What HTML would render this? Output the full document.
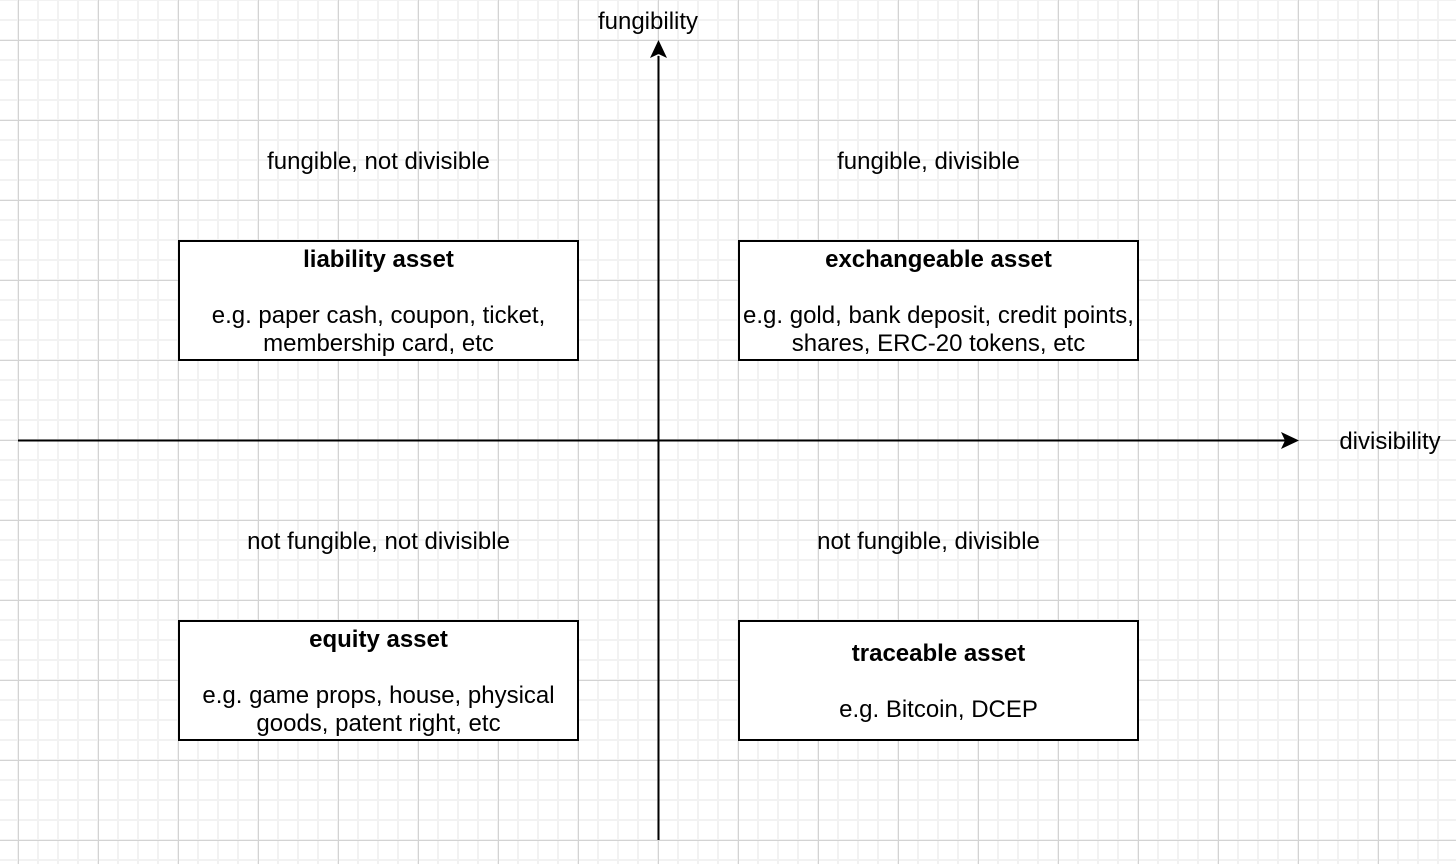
<!DOCTYPE html>
<html><head><style>
html,body{margin:0;padding:0}
body{width:1456px;height:864px;position:relative;overflow:hidden;background-color:#fff;
background-image:
linear-gradient(to right,#d3d3d3 1px,transparent 1px),
linear-gradient(to bottom,#d3d3d3 1px,transparent 1px),
linear-gradient(to right,#f2f2f2 2px,transparent 2px),
linear-gradient(to bottom,#f2f2f2 2px,transparent 2px);
background-size:80px 80px,80px 80px,20px 20px,20px 20px;
background-position:18px 0,0 40px,17px 0,0 -1px;
font-family:"Liberation Sans",Arial,sans-serif;font-size:24px;color:#000}
.t{position:absolute;white-space:nowrap;text-align:center;line-height:28px}
.box{position:absolute;width:397px;height:117px;border:2px solid #000;background:#fff;display:flex;align-items:center;justify-content:center;text-align:center;line-height:28px;white-space:nowrap}
.box>div{margin-top:3px}
b{font-weight:bold}
</style></head><body>
<svg width="1456" height="864" style="position:absolute;left:0;top:0">
<line x1="18" y1="440.5" x2="1285" y2="440.5" stroke="#000" stroke-width="2"/>
<polygon points="1299,440.5 1281,432 1285,440.5 1281,449" fill="#000"/>
<line x1="658.5" y1="840" x2="658.5" y2="56" stroke="#000" stroke-width="2"/>
<polygon points="658.5,40 650,58 658.5,54 667,58" fill="#000"/>
</svg>
<div class="t" style="left:548px;top:8px;width:200px">fungibility</div>
<div class="t" style="left:1290px;top:428px;width:200px">divisibility</div>
<div class="t" style="left:178px;top:148px;width:401px">fungible, not divisible</div>
<div class="t" style="left:728px;top:148px;width:401px">fungible, divisible</div>
<div class="t" style="left:178px;top:528px;width:401px">not fungible, not divisible</div>
<div class="t" style="left:728px;top:528px;width:401px">not fungible, divisible</div>
<div class="box" style="left:178px;top:240px"><div><b>liability asset</b><br><br>e.g. paper cash, coupon, ticket,<br>membership card, etc</div></div>
<div class="box" style="left:738px;top:240px"><div><b>exchangeable asset</b><br><br>e.g. gold, bank deposit, credit points,<br>shares, ERC-20 tokens, etc</div></div>
<div class="box" style="left:178px;top:620px"><div><b>equity asset</b><br><br>e.g. game props, house, physical<br>goods, patent right, etc</div></div>
<div class="box" style="left:738px;top:620px"><div><b>traceable asset</b><br><br>e.g. Bitcoin, DCEP</div></div>
</body></html>
